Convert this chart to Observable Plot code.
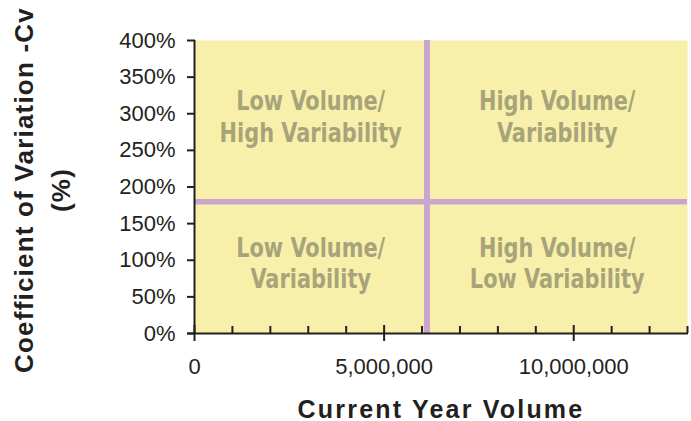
<!DOCTYPE html>
<html>
<head>
<meta charset="utf-8">
<script src="https://cdn.jsdelivr.net/npm/d3@7"></script>
<script src="https://cdn.jsdelivr.net/npm/@observablehq/plot@0.6"></script>
<style>
  html, body { margin: 0; padding: 0; background: #ffffff; }
  #chart svg { display: block; }
</style>
</head>
<body>
<div id="chart"></div>
<script>
// ---- Data ----
const xDomain = [0, 13000000];
const yDomain = [0, 4];
const xMajorTicks = [0, 5000000, 10000000];
const xMinorTicks = [1000000, 2000000, 3000000, 4000000, 6000000, 7000000, 8000000, 9000000, 11000000, 12000000, 13000000];
const yTicks = [0, 0.5, 1, 1.5, 2, 2.5, 3, 3.5, 4];
const volumeThreshold = [6130000];
const cvThreshold = [1.8];
const quadrantLabels = ["Low Volume/\nHigh Variability", "High Volume/\nVariability", "Low Volume/\nVariability", "High Volume/\nLow Variability"];
const quadrantVolume = ["low", "high", "low", "high"];
const quadrantCv = ["high", "high", "low", "low"];
const xTitle = "Current Year Volume";
const yTitle = "Coefficient of Variation -Cv\n(%)";

// ---- Derived table ----
const midX = {low: (xDomain[0] + volumeThreshold[0]) / 2, high: (volumeThreshold[0] + xDomain[1]) / 2};
const midY = {low: (yDomain[0] + cvThreshold[0]) / 2, high: (cvThreshold[0] + yDomain[1]) / 2};
const quadrants = quadrantLabels.map((t, i) => ({text: t, x: midX[quadrantVolume[i]], y: midY[quadrantCv[i]]}));

const W = 691, H = 421;
const mL = 194, mR = 4, mT = 40, mB = 88;
const fw = W - mL - mR, fh = H - mT - mB;

const ink = "#231f20";
const lav = "#c9a5cf";
const labelFont = "'DejaVu Sans Condensed', 'DejaVu Sans', sans-serif";

const chart = Plot.plot({
  width: W, height: H,
  marginLeft: mL, marginRight: mR, marginTop: mT, marginBottom: mB,
  style: {fontFamily: "'Liberation Sans', Arial, sans-serif", background: "#ffffff", color: ink},
  x: {domain: xDomain, axis: null},
  y: {domain: yDomain, axis: null},
  marks: [
    Plot.frame({fill: "#f8f0aa", stroke: "none"}),
    Plot.ruleX(volumeThreshold, {stroke: lav, strokeWidth: 6}),
    Plot.ruleY(cvThreshold, {stroke: lav, strokeWidth: 5.5}),
    Plot.text(quadrants, {x: "x", y: "y", text: "text", fill: "#a7a47a", fontSize: 27, fontWeight: "bold",
      fontFamily: labelFont, lineHeight: 1.17, dy: -5}),
    // axis lines
    Plot.ruleX([0], {stroke: ink, strokeWidth: 2}),
    Plot.ruleY([0], {stroke: ink, strokeWidth: 2, insetLeft: -7, insetRight: -1}),
    // y ticks
    Plot.ruleY(yTicks, {stroke: ink, strokeWidth: 2, insetLeft: -7, insetRight: fw - 1}),
    // x ticks
    Plot.ruleX(xMinorTicks, {stroke: ink, strokeWidth: 2, insetTop: fh - 7}),
    Plot.ruleX(xMajorTicks, {stroke: ink, strokeWidth: 2, insetTop: fh - 8, insetBottom: -8}),
    // tick labels
    Plot.axisY({ticks: yTicks, tickFormat: d3.format(".0%"), tickSize: 0, tickPadding: 19, fontSize: 22, label: null, fill: ink}),
    Plot.axisX({ticks: xMajorTicks, tickFormat: d3.format(","), tickSize: 0, tickPadding: 25, fontSize: 22, label: null, fill: ink}),
    // titles
    Plot.text([xTitle], {frameAnchor: "bottom", lineAnchor: "middle", dy: 76, fontSize: 25, fontWeight: "bold", fill: ink}),
    Plot.text([yTitle], {frameAnchor: "left", textAnchor: "middle", lineAnchor: "middle", dx: -155, dy: 3, rotate: -90,
      fontSize: 26, fontWeight: "bold", lineHeight: 1.42, fill: ink})
  ]
});

const svg = d3.select(chart);
svg.selectAll("text").each(function() {
  const t = this.textContent;
  if (t.startsWith("Current")) d3.select(this).style("letter-spacing", "2.2px");
  if (t.startsWith("Coefficient")) d3.select(this).style("letter-spacing", "1.2px");
  if (t.includes("Volume/")) {
    const tr = this.getAttribute("transform") || "";
    this.setAttribute("transform", tr + " scale(0.86,1)");
  }
});
document.getElementById("chart").appendChild(chart);
</script>
</body>
</html>
